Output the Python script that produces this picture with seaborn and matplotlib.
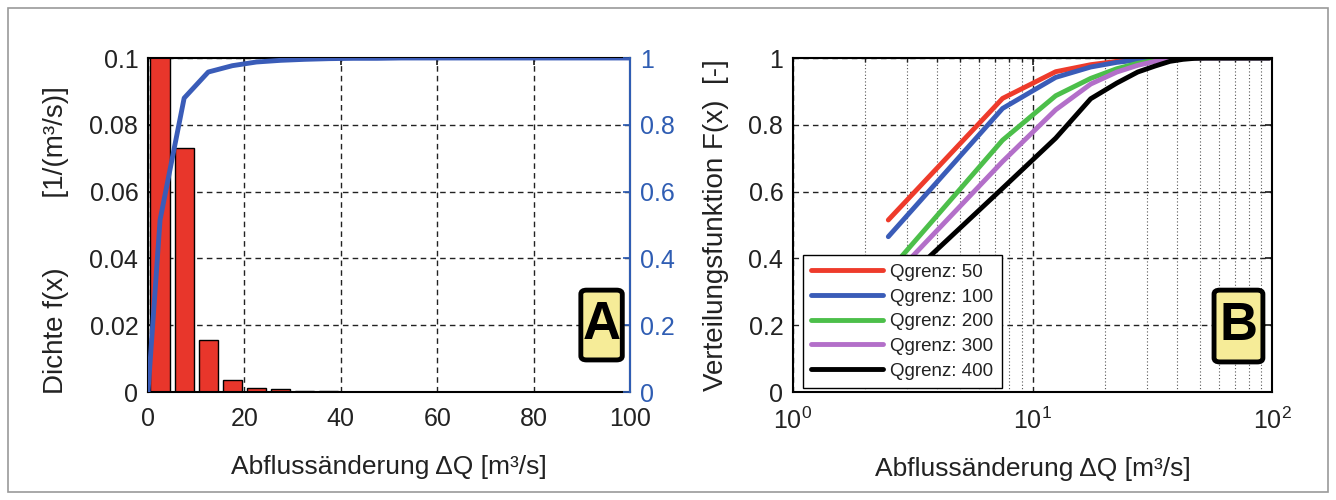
import numpy as np
import pandas as pd
import matplotlib
matplotlib.use("Agg")
import matplotlib.pyplot as plt
from matplotlib.patches import FancyBboxPatch, Rectangle
from matplotlib.ticker import LogLocator, NullFormatter
import seaborn as sns

# ---- Panel A: histogram density and cumulative distribution ----
bin_edges = [0, 5, 10, 15, 20, 25, 30, 35, 40, 45, 50, 55, 60, 65, 70, 75, 80, 85, 90, 95, 100]
bin_centers = [2.5, 7.5, 12.5, 17.5, 22.5, 27.5, 32.5, 37.5, 42.5, 47.5,
               52.5, 57.5, 62.5, 67.5, 72.5, 77.5, 82.5, 87.5, 92.5, 97.5]
density = [0.103, 0.073, 0.0155, 0.0036, 0.0013, 0.0008, 0.0003, 0.0002, 0.0001, 0.00008,
           0.00005, 0.00003, 0.00002, 0.00001, 0.0, 0.0, 0.0, 0.0, 0.0, 0.0]
cdf_x = [0, 2.5, 7.5, 12.5, 17.5, 22.5, 27.5, 32.5, 37.5, 42.5, 47.5, 52.5, 57.5,
         62.5, 67.5, 72.5, 77.5, 82.5, 87.5, 92.5, 97.5, 100]
cdf_y = [0.0, 0.515, 0.88, 0.958, 0.977, 0.988, 0.993, 0.996, 0.998, 0.999, 0.999, 1.0, 1.0,
         1.0, 1.0, 1.0, 1.0, 1.0, 1.0, 1.0, 1.0, 1.0]

# ---- Panel B: distribution functions for several Qgrenz thresholds ----
dq = [2.5, 7.5, 12.5, 17.5, 22.5, 27.5, 32.5, 37.5, 42.5, 47.5, 52.5, 57.5,
      62.5, 67.5, 72.5, 77.5, 82.5, 87.5, 92.5, 97.5]
F_50 = [0.515, 0.879, 0.959, 0.980, 0.990, 0.995, 0.998, 0.999, 1.0, 1.0,
        1.0, 1.0, 1.0, 1.0, 1.0, 1.0, 1.0, 1.0, 1.0, 1.0]
F_100 = [0.465, 0.849, 0.942, 0.973, 0.987, 0.994, 0.997, 0.999, 1.0, 1.0,
         1.0, 1.0, 1.0, 1.0, 1.0, 1.0, 1.0, 1.0, 1.0, 1.0]
F_200 = [0.360, 0.754, 0.887, 0.939, 0.968, 0.984, 0.993, 0.997, 0.999, 1.0,
         1.0, 1.0, 1.0, 1.0, 1.0, 1.0, 1.0, 1.0, 1.0, 1.0]
F_300 = [0.330, 0.690, 0.845, 0.922, 0.958, 0.978, 0.990, 0.996, 0.999, 1.0,
         1.0, 1.0, 1.0, 1.0, 1.0, 1.0, 1.0, 1.0, 1.0, 1.0]
F_400 = [0.290, 0.610, 0.760, 0.878, 0.925, 0.958, 0.976, 0.990, 0.996, 0.999,
         1.0, 1.0, 1.0, 1.0, 1.0, 1.0, 1.0, 1.0, 1.0, 1.0]
series_labels = ["Qgrenz: 50", "Qgrenz: 100", "Qgrenz: 200", "Qgrenz: 300", "Qgrenz: 400"]
series_colors = ["#EE3B2B", "#3A5CB8", "#4CBF4A", "#B36FC9", "#000000"]

sns.set_theme(style="white")
plt.rcParams["font.family"] = ["Liberation Sans", "DejaVu Sans"]
plt.rcParams["mathtext.fontset"] = "custom"
plt.rcParams["mathtext.rm"] = "Liberation Sans"
plt.rcParams["mathtext.it"] = "Liberation Sans:italic"
plt.rcParams["mathtext.default"] = "regular"

TXT = "#222222"
BLUE = "#2F5DB3"
TICK_FS = 18
XLAB_FS = 19
YLAB_FS = 20

fig = plt.figure(figsize=(13.36, 5.0), dpi=100)
fig.patch.set_facecolor("white")
fig.patches.append(Rectangle((8 / 1336, 8 / 500), 1320 / 1336, 484 / 500,
                             transform=fig.transFigure, fill=False,
                             edgecolor="#9a9a9a", linewidth=1.2))

axA = fig.add_axes([148 / 1336, 108 / 500, 482 / 1336, 334 / 500])
axB = fig.add_axes([793 / 1336, 108 / 500, 479 / 1336, 334 / 500])

# ---------- Panel A ----------
sns.histplot(x=bin_centers, weights=density, bins=bin_edges, stat="count",
             shrink=0.8, color="#E8362B", edgecolor="black", linewidth=1.0,
             alpha=1.0, ax=axA)
axA.set_xlim(0, 100)
axA.set_ylim(0, 0.1)
axA.set_xticks([0, 20, 40, 60, 80, 100])
axA.set_yticks([0, 0.02, 0.04, 0.06, 0.08, 0.1])
axA.set_yticklabels(["0", "0.02", "0.04", "0.06", "0.08", "0.1"])
axA.set_axisbelow(True)
axA.grid(True, color="#222222", linestyle=(0, (4, 3)), linewidth=1.0)
axA.set_xlabel("Abflussänderung ΔQ [m³/s]", fontsize=XLAB_FS, color=TXT, labelpad=17)
axA.set_ylabel("Dichte f(x)" + " " * 9 + "[1/(m³/s)]", fontsize=YLAB_FS, color=TXT)
axA.yaxis.set_label_coords(-0.163, 0.455)
axA.tick_params(axis="both", direction="in", length=5, labelsize=TICK_FS, colors=TXT)
axA.tick_params(axis="y", pad=7)
axA.tick_params(axis="x", top=True, pad=11)
for s in axA.spines.values():
    s.set_color("black")
    s.set_linewidth(1.5)

axA2 = axA.twinx()
sns.lineplot(x=cdf_x, y=cdf_y, color="#3A5CB8", linewidth=3.5, ax=axA2)
axA2.set_ylim(0, 1)
axA2.set_yticks([0, 0.2, 0.4, 0.6, 0.8, 1.0])
axA2.set_yticklabels(["0", "0.2", "0.4", "0.6", "0.8", "1"])
axA2.tick_params(axis="y", direction="in", length=5, labelsize=TICK_FS, colors=BLUE, pad=7)
axA2.spines["right"].set_color(BLUE)
axA2.spines["right"].set_linewidth(1.5)
for side in ("left", "top", "bottom"):
    axA2.spines[side].set_visible(False)
axA2.set_ylabel("")
axA2.set_xlim(0, 100)


def tag(ax, letter, x0, y0, w, h):
    box = FancyBboxPatch((x0, y0), w, h, boxstyle="round,pad=0,rounding_size=0.012",
                         transform=ax.transAxes, facecolor="#F6EC98",
                         edgecolor="black", linewidth=3.5, zorder=10, clip_on=False)
    ax.add_patch(box)
    ax.text(x0 + w / 2, y0 + h / 2, letter, transform=ax.transAxes,
            ha="center", va="center", fontsize=38, fontweight="bold",
            color="black", zorder=11)


tag(axA2, "A", 0.898, 0.096, 0.086, 0.209)

# ---------- Panel B ----------
rows = []
for lab, vals in zip(series_labels, [F_50, F_100, F_200, F_300, F_400]):
    for x, y in zip(dq, vals):
        rows.append({"dq": x, "F": y, "Qgrenz": lab})
dfB = pd.DataFrame(rows)
sns.lineplot(data=dfB, x="dq", y="F", hue="Qgrenz", hue_order=series_labels,
             palette=dict(zip(series_labels, series_colors)), linewidth=3.5, ax=axB)
axB.set_xscale("log")
axB.set_xlim(1, 100)
axB.set_ylim(0, 1)
axB.set_yticks([0, 0.2, 0.4, 0.6, 0.8, 1.0])
axB.set_yticklabels(["0", "0.2", "0.4", "0.6", "0.8", "1"])
axB.xaxis.set_minor_locator(LogLocator(base=10, subs=np.arange(2, 10)))
axB.xaxis.set_minor_formatter(NullFormatter())
axB.set_axisbelow(True)
axB.grid(True, which="major", color="#222222", linestyle=(0, (4, 3)), linewidth=1.0)
axB.grid(True, which="minor", axis="x", color="#555555", linestyle=(0, (1, 2)), linewidth=0.8)
axB.set_xlabel("Abflussänderung ΔQ [m³/s]", fontsize=XLAB_FS, color=TXT, labelpad=17)
axB.set_ylabel("Verteilungsfunktion F(x)  [-]", fontsize=YLAB_FS, color=TXT, labelpad=14)
axB.tick_params(axis="both", which="both", direction="in", labelsize=TICK_FS, colors=TXT,
                top=True, right=True)
axB.tick_params(axis="y", pad=7)
axB.tick_params(axis="x", which="both", pad=11)
axB.tick_params(axis="both", which="major", length=5)
axB.tick_params(axis="x", which="minor", length=3)
for s in axB.spines.values():
    s.set_color("black")
    s.set_linewidth(1.5)

leg = axB.legend(loc="lower left", bbox_to_anchor=(0.021, 0.012), borderaxespad=0,
                 fontsize=13.5, frameon=True, fancybox=False, framealpha=1,
                 edgecolor="black", handlelength=3.8, labelspacing=0.4,
                 borderpad=0.45, handletextpad=0.4)
leg.get_frame().set_linewidth(1.0)
for line in leg.get_lines():
    line.set_linewidth(3.5)
for t in leg.get_texts():
    t.set_color(TXT)

tag(axB, "B", 0.879, 0.09, 0.102, 0.215)

fig.savefig("out.png", dpi=100, facecolor="white")
